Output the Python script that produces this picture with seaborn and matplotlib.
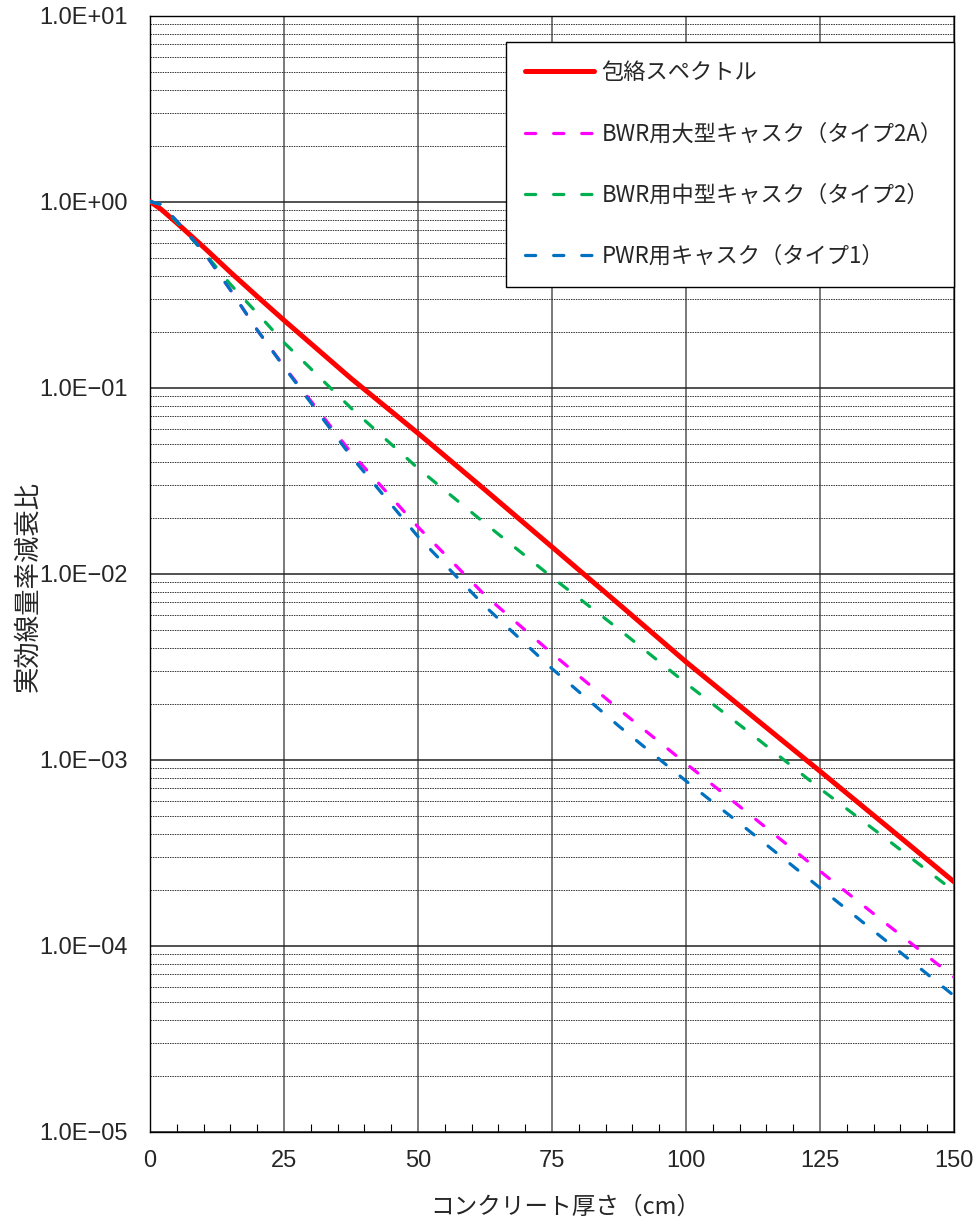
import numpy as np
import pandas as pd
import matplotlib
matplotlib.use("Agg")
import matplotlib.pyplot as plt
import matplotlib.ticker as mticker
import seaborn as sns

# concrete thickness (cm) and dose-rate attenuation ratios
thickness = [0, 2, 5, 10, 15, 20, 25, 37.5, 50, 62.5, 75, 87.5, 100, 112.5, 125, 137.5, 150]
envelope = [1.0, 0.912, 0.767, 0.569, 0.417, 0.309, 0.230, 0.112, 0.0568, 0.0282, 0.0139,
            0.00684, 0.00335, 0.0017, 0.000865, 0.000437, 0.00022]
bwr_large = [1.0, 0.966, 0.785, 0.537, 0.335, 0.204, 0.130, 0.0447, 0.0178, 0.00764, 0.00372,
             0.00186, 0.000951, 0.00049, 0.000251, 0.00013, 6.76e-5]
bwr_mid = [1.0, 0.966, 0.776, 0.537, 0.359, 0.251, 0.1746, 0.0776, 0.0368, 0.0186, 0.00955,
           0.00501, 0.00257, 0.00135, 0.000698, 0.000372, 0.000196]
pwr = [1.0, 0.966, 0.785, 0.537, 0.335, 0.204, 0.129, 0.0427, 0.0158, 0.00667, 0.00308,
       0.00151, 0.000767, 0.000398, 0.000204, 0.000105, 5.37e-5]

labels = ["包絡スペクトル", "BWR用大型キャスク（タイプ2A）", "BWR用中型キャスク（タイプ2）", "PWR用キャスク（タイプ1）"]
colors = ["#FF0000", "#FF00FF", "#00B050", "#0070C0"]
x_ticks = [0, 25, 50, 75, 100, 125, 150]

sns.set_style("white")
jp = ["Noto Sans CJK JP", "DejaVu Sans"]
plt.rcParams["font.family"] = jp

fig = plt.figure(figsize=(9.79, 12.25), dpi=100)
ax = fig.add_axes([0.1532, 0.0763, 0.8213, 0.911])

series = [envelope, bwr_large, bwr_mid, pwr]
for i, (vals, lab, col) in enumerate(zip(series, labels, colors)):
    if i == 0:
        sns.lineplot(x=thickness, y=vals, ax=ax, color=col, linewidth=3.6, label=lab,
                     solid_capstyle="round", zorder=3)
    else:
        sns.lineplot(x=thickness, y=vals, ax=ax, color=col, linewidth=2.3, label=lab,
                     linestyle=(0, (3.2, 5.6)), dash_capstyle="round", zorder=3 + i)

ax.set_yscale("log")
ax.set_ylim(1e-5, 1e1)
ax.set_xlim(0, 150)
ax.set_xticks(x_ticks)
ax.xaxis.set_minor_locator(mticker.MultipleLocator(5))
ax.yaxis.set_major_locator(mticker.LogLocator(base=10, numticks=10))
ax.yaxis.set_minor_locator(mticker.LogLocator(base=10, subs=range(2, 10), numticks=20))
ax.yaxis.set_minor_formatter(mticker.NullFormatter())
ax.yaxis.set_major_formatter(mticker.FuncFormatter(lambda v, p: f"{v:.1E}".replace("-", "−")))

ax.grid(axis="x", which="major", color="#6e6e6e", linewidth=1.3)
ax.grid(axis="y", which="major", color="#222222", linewidth=1.1)
ax.grid(axis="y", which="minor", color="#333333", linewidth=0.7, linestyle=(0, (1.5, 1)))
ax.set_axisbelow(True)

ax.tick_params(axis="x", which="both", direction="in", length=6, width=0.8, color="black",
               bottom=True, pad=13, labelsize=17,
               labelfontfamily=["Liberation Sans Narrow", "Liberation Sans", "DejaVu Sans"])
ax.tick_params(axis="x", which="major", length=0)
ax.tick_params(axis="y", which="both", length=0, pad=16, labelsize=17,
               labelfontfamily=["Liberation Sans", "DejaVu Sans"])

for sp in ax.spines.values():
    sp.set_color("black")
    sp.set_linewidth(1.0)

ax.set_xlabel("コンクリート厚さ（cm）", fontsize=17, va="center")
ax.set_ylabel("実効線量率減衰比", fontsize=19, va="center")
ax.xaxis.set_label_coords(0.516, -0.0675)
ax.yaxis.set_label_coords(-0.152, 0.488)

leg = ax.legend(loc="upper left", bbox_to_anchor=(0.443, 0.761, 0.557, 0.215), mode="expand",
                fontsize=16, frameon=True, fancybox=False, framealpha=1, edgecolor="black",
                borderaxespad=0, borderpad=0.85, labelspacing=1.72, handlelength=3.1,
                handletextpad=0.35)
leg.get_frame().set_linewidth(1.0)
leg.set_zorder(10)

fig.savefig("out.png", dpi=100, facecolor="white")
